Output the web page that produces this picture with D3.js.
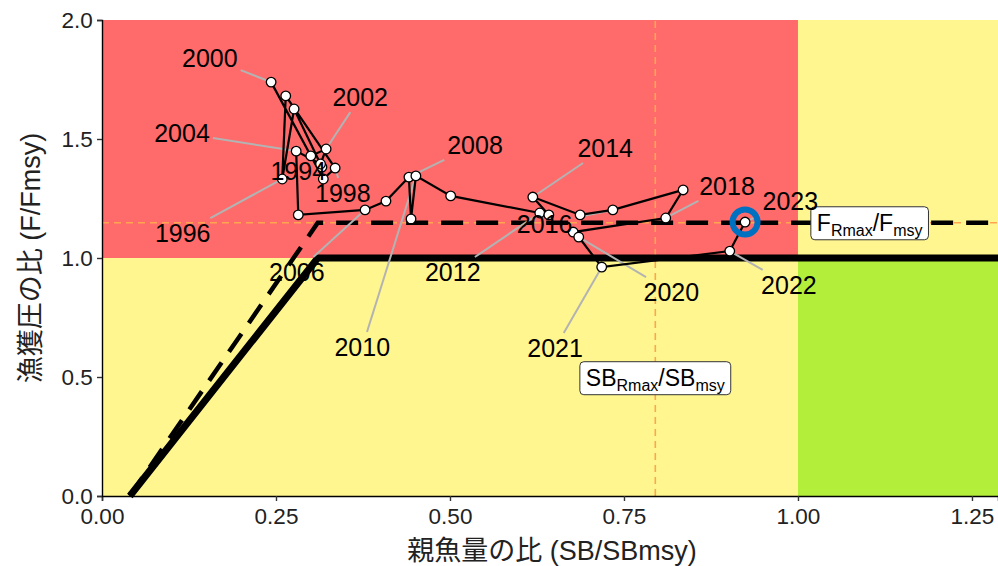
<!DOCTYPE html>
<html>
<head>
<meta charset="utf-8">
<script src="https://cdn.jsdelivr.net/npm/d3@7"></script>
<style>
  body { margin: 0; background: #fff; }
  svg { display: block; }
  text { font-family: "Liberation Sans", Arial, "Noto Sans CJK JP", sans-serif; }
</style>
</head>
<body>
<svg></svg>
<script>
  // data (SB/SBmsy, F/Fmsy)
  var years = [1994, 1995, 1996, 1997, 1998, 1999, 2000, 2001, 2002, 2003, 2004,
    2005, 2006, 2007, 2008, 2009, 2010, 2011, 2012, 2013, 2014, 2015, 2016, 2017,
    2018, 2019, 2020, 2021, 2022, 2023];
  var sbRatio = [0.316, 0.276, 0.259, 0.264, 0.335, 0.318, 0.243, 0.300, 0.322, 0.314, 0.279,
    0.282, 0.378, 0.408, 0.441, 0.444, 0.451, 0.501, 0.629, 0.642, 0.619, 0.687, 0.734, 0.835,
    0.810, 0.677, 0.685, 0.718, 0.902, 0.924];
  var fRatio = [1.382, 1.626, 1.332, 1.681, 1.378, 1.332, 1.739, 1.429, 1.458, 1.395, 1.449,
    1.181, 1.202, 1.239, 1.340, 1.164, 1.345, 1.261, 1.189, 1.181, 1.256, 1.181, 1.202, 1.286,
    1.168, 1.109, 1.088, 0.962, 1.029, 1.151];

  // labelled years and where the labels sit (data units)
  var labelYears = [1994, 1996, 1998, 2000, 2002, 2004, 2006, 2008, 2010, 2012, 2014,
    2016, 2018, 2020, 2021, 2022, 2023];
  var labelX = [0.282, 0.116, 0.346, 0.155, 0.371, 0.115, 0.280, 0.536, 0.374, 0.504, 0.723,
    0.636, 0.898, 0.818, 0.651, 0.987, 0.989];
  var labelY = [1.366, 1.105, 1.273, 1.840, 1.676, 1.525, 0.941, 1.475, 0.626, 0.941, 1.462,
    1.143, 1.303, 0.857, 0.622, 0.887, 1.239];

  // reference points / harvest control rule
  var sbBan = 0.04;
  var sbLimit = 0.31;
  var beta = 1.0;
  var fRmax = 1.148;
  var sbRmax = 0.795;

  var xTicks = [0, 0.25, 0.5, 0.75, 1.0, 1.25];
  var yTicks = [0, 0.5, 1.0, 1.5, 2.0];

  var width = 998;
  var height = 566;
  var margin = { top: 20, right: 0, bottom: 70, left: 102 };

  var svg = d3.select('svg')
    .attr('width', width)
    .attr('height', height);

  var x = d3.scaleLinear().domain([0, 1.2874]).range([margin.left, width - margin.right]);
  var y = d3.scaleLinear().domain([0, 2]).range([height - margin.bottom, margin.top]);

  var xMax = x.domain()[1];
  var g = svg.append('g');

  // zones
  var zones = [
    { x0: 0, x1: 1, y0: 1, y1: 2, color: '#FF6A6A' },
    { x0: 0, x1: 1, y0: 0, y1: 1, color: '#FFF68F' },
    { x0: 1, x1: xMax, y0: 1, y1: 2, color: '#FFF68F' },
    { x0: 1, x1: xMax, y0: 0, y1: 1, color: '#B3EE3A' }
  ];
  g.selectAll('rect.zone')
    .data(zones)
    .enter()
    .append('rect')
    .attr('class', 'zone')
    .attr('x', function (d) { return x(d.x0); })
    .attr('y', function (d) { return y(d.y1); })
    .attr('width', function (d) { return x(d.x1) - x(d.x0); })
    .attr('height', function (d) { return y(d.y0) - y(d.y1); })
    .attr('fill', function (d) { return d.color; });

  // orange reference lines
  g.append('line')
    .attr('x1', x(0)).attr('x2', x(xMax))
    .attr('y1', y(fRmax)).attr('y2', y(fRmax))
    .attr('stroke', '#FFA54F').attr('stroke-width', 1.6)
    .attr('stroke-dasharray', '7,5');
  g.append('line')
    .attr('x1', x(sbRmax)).attr('x2', x(sbRmax))
    .attr('y1', y(0)).attr('y2', y(2))
    .attr('stroke', '#FFA54F').attr('stroke-width', 1.6)
    .attr('stroke-dasharray', '7,5');

  // HCR lines
  var line = d3.line()
    .x(function (d) { return x(d[0]); })
    .y(function (d) { return y(d[1]); });

  g.append('path')
    .attr('d', line([[sbBan, 0], [sbLimit, beta * fRmax], [xMax, beta * fRmax]]))
    .attr('fill', 'none')
    .attr('stroke', '#000')
    .attr('stroke-width', 4.5)
    .attr('stroke-dasharray', '22,13');
  g.append('path')
    .attr('d', line([[sbBan, 0], [sbLimit, beta], [xMax, beta]]))
    .attr('fill', 'none')
    .attr('stroke', '#000')
    .attr('stroke-width', 7);

  // label boxes for reference points
  function refLabel(cx, cy, main1, sub1, main2, sub2) {
    var lg = g.append('g');
    var t = lg.append('text')
      .attr('x', cx).attr('y', cy + 8)
      .attr('text-anchor', 'middle')
      .attr('font-size', 23)
      .attr('fill', '#000');
    t.append('tspan').text(main1);
    t.append('tspan').attr('font-size', 16).attr('dy', 5).text(sub1);
    t.append('tspan').attr('dy', -5).text('/' + main2);
    t.append('tspan').attr('font-size', 16).attr('dy', 5).text(sub2);
    var bb = t.node().getBBox();
    lg.insert('rect', 'text')
      .attr('x', bb.x - 6).attr('y', cy - 16)
      .attr('width', bb.width + 12).attr('height', 33)
      .attr('rx', 4)
      .attr('fill', '#fff')
      .attr('stroke', '#333')
      .attr('stroke-width', 1);
  }
  refLabel(x(1.103), y(fRmax), 'F', 'Rmax', 'F', 'msy');
  refLabel(x(sbRmax), y(0.497), 'SB', 'Rmax', 'SB', 'msy');

  // trajectory
  var pts = years.map(function (yr, i) { return [sbRatio[i], fRatio[i], yr]; });

  var labels = labelYears.map(function (yr, i) {
    var idx = years.indexOf(yr);
    return { year: yr, lx: x(labelX[i]), ly: y(labelY[i]), px: x(sbRatio[idx]), py: y(fRatio[idx]) };
  });
  var segG = g.append('g');   // label segments under the track
  var trackG = g.append('g');
  var textG = svg.append('g');

  trackG.append('path')
    .attr('d', line(pts))
    .attr('fill', 'none')
    .attr('stroke', '#000')
    .attr('stroke-width', 2.2);

  trackG.selectAll('circle')
    .data(pts)
    .enter()
    .append('circle')
    .attr('cx', function (d) { return x(d[0]); })
    .attr('cy', function (d) { return y(d[1]); })
    .attr('r', 4.8)
    .attr('fill', '#fff')
    .attr('stroke', '#000')
    .attr('stroke-width', 1.3);

  // latest year marker
  var last = pts[pts.length - 1];
  trackG.append('circle')
    .attr('cx', x(last[0]))
    .attr('cy', y(last[1]))
    .attr('r', 12.5)
    .attr('fill', 'none')
    .attr('stroke', '#0070C0')
    .attr('stroke-width', 6);

  labels.forEach(function (d) {
    var t = textG.append('text')
      .attr('x', d.lx).attr('y', d.ly + 9)
      .attr('text-anchor', 'middle')
      .attr('font-size', 25)
      .attr('fill', '#000')
      .text(d.year);
    var bb = t.node().getBBox();
    var hw = bb.width / 2 + 3, hh = bb.height / 2 + 1;
    var cx = bb.x + bb.width / 2, cy = bb.y + bb.height / 2;
    var dx = d.px - cx, dy = d.py - cy;
    if (Math.abs(dx) <= hw + 4 && Math.abs(dy) <= hh + 4) return;
    var s = Math.min(hw / Math.abs(dx || 1e-9), hh / Math.abs(dy || 1e-9));
    var sx = cx + dx * s, sy = cy + dy * s;
    var len = Math.sqrt(dx * dx + dy * dy);
    var ex = d.px - dx / len * 5, ey = d.py - dy / len * 5;
    segG.append('line')
      .attr('x1', sx).attr('y1', sy)
      .attr('x2', ex).attr('y2', ey)
      .attr('stroke', '#B3B3B3')
      .attr('stroke-width', 2);
  });

  // axes
  var xAxis = svg.append('g')
    .attr('transform', 'translate(0,' + y(0) + ')')
    .call(d3.axisBottom(x).tickValues(xTicks).tickFormat(d3.format('.2f')).tickSizeOuter(0).tickSize(5));
  var yAxis = svg.append('g')
    .attr('transform', 'translate(' + x(0) + ',0)')
    .call(d3.axisLeft(y).tickValues(yTicks).tickFormat(d3.format('.1f')).tickSizeOuter(0).tickSize(5));
  [xAxis, yAxis].forEach(function (a) {
    a.select('.domain').attr('stroke', '#000').attr('stroke-width', 1.4);
    a.selectAll('.tick line').attr('stroke', '#333').attr('stroke-width', 1.4);
    a.selectAll('.tick text')
      .attr('font-size', 22.5)
      .attr('fill', '#222')
      .style('font-family', '"Liberation Sans", Arial, sans-serif');
  });
  xAxis.selectAll('.tick text').attr('dy', '0.9em');
  yAxis.selectAll('.tick text').attr('dx', '-0.05em');

  svg.append('text')
    .attr('x', 552).attr('y', 560)
    .attr('text-anchor', 'middle')
    .attr('font-size', 27)
    .attr('fill', '#222')
    .text('親魚量の比 (SB/SBmsy)');
  svg.append('text')
    .attr('transform', 'translate(40,' + y(1) + ') rotate(-90)')
    .attr('text-anchor', 'middle')
    .attr('font-size', 27)
    .attr('fill', '#222')
    .text('漁獲圧の比 (F/Fmsy)');
</script>
</body>
</html>
